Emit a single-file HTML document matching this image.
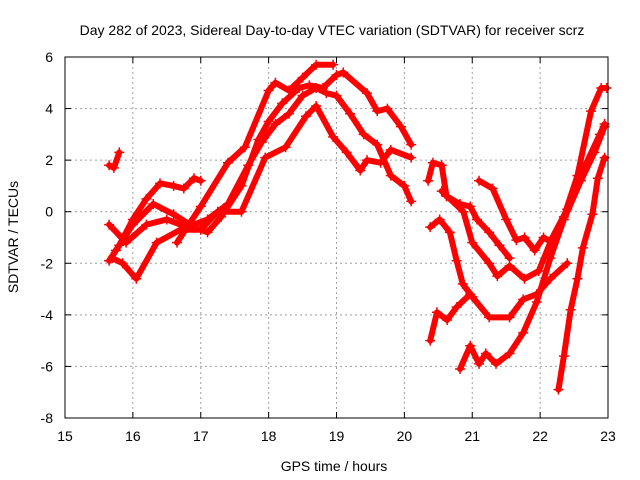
<!DOCTYPE html>
<html><head><meta charset="utf-8"><style>
body{margin:0;background:#fff}
svg{display:block;font-family:"Liberation Sans",sans-serif}
</style></head><body>
<svg id="chart" width="640" height="480">
<text x="332" y="35" text-anchor="middle" font-size="14">Day 282 of 2023, Sidereal Day-to-day VTEC variation (SDTVAR) for receiver scrz</text>
<text x="334" y="471" text-anchor="middle" font-size="14">GPS time / hours</text>
<text transform="translate(18,237) rotate(-90)" text-anchor="middle" font-size="14">SDTVAR / TECUs</text>
<g id="grid"></g><g id="ticks"></g><g id="series"></g>
<rect x="65" y="57" width="543" height="361" fill="none" stroke="#000" stroke-width="1"/>
</svg>
<script>
const xTicks=[15,16,17,18,19,20,21,22,23];
const yTicks=[-8,-6,-4,-2,0,2,4,6];
const s1=[[16.65,-1.2],[17.0,0.2],[17.4,1.9],[17.65,2.5],[18.0,4.7],[18.1,5.0],[18.3,4.7],[18.5,5.2],[18.7,5.7],[18.95,5.7]];
const s2=[[15.75,-1.5],[16.0,-0.5],[16.3,0.3],[16.6,-0.1],[16.9,-0.6],[17.1,-0.8],[17.3,-0.2],[17.6,1.0],[17.85,2.8],[18.0,3.5],[18.2,4.2],[18.45,4.8],[18.6,4.9],[18.8,4.8],[19.0,5.3],[19.1,5.4],[19.45,4.6],[19.6,3.9],[19.75,4.0],[19.95,3.3],[20.1,2.6]];
const s3=[[15.65,-0.5],[15.9,-1.2],[16.2,-0.5],[16.5,-0.3],[16.8,-0.6],[17.1,-0.3],[17.4,0.3],[17.7,1.8],[17.9,2.7],[18.1,3.4],[18.3,3.8],[18.5,4.5],[18.7,4.8],[18.85,4.6],[19.0,4.5],[19.2,3.8],[19.4,3.0],[19.6,2.6],[19.8,1.4],[20.0,1.0],[20.1,0.4]];
const s4=[[15.7,-1.8],[15.85,-2.0],[16.05,-2.6],[16.35,-1.2],[16.7,-0.7],[17.0,-0.7],[17.25,0.0],[17.6,0.0],[17.95,2.1],[18.25,2.5],[18.55,3.7],[18.7,4.1],[18.95,2.9],[19.15,2.3],[19.35,1.6],[19.45,2.0],[19.65,1.9],[19.8,2.4],[20.1,2.1]];
const s5=[[15.65,-1.9],[15.8,-1.3],[16.0,-0.3],[16.2,0.5],[16.4,1.1],[16.6,1.0],[16.75,0.9],[16.9,1.3],[17.0,1.2]];
const s6=[[15.65,1.8],[15.72,1.7],[15.8,2.3]];
const r1=[[20.38,-0.6],[20.52,-0.3],[20.67,-0.8],[20.77,-1.9],[20.86,-2.8],[21.0,-3.3],[21.25,-4.1],[21.55,-4.1],[21.75,-3.4],[21.95,-3.2],[22.15,-2.6],[22.4,-2.0]];
const r2=[[20.38,-5.0],[20.48,-3.9],[20.63,-4.2],[20.77,-3.7],[20.97,-3.2]];
const r3=[[20.82,-6.1],[20.97,-5.2],[21.1,-5.9],[21.2,-5.5],[21.35,-5.9],[21.55,-5.5],[21.75,-4.7],[21.95,-3.5],[22.15,-1.8],[22.35,-0.3],[22.6,1.2],[22.8,2.3],[22.95,3.3]];
const r4=[[20.35,1.2],[20.42,1.9],[20.55,1.8],[20.62,0.6],[20.82,0.3],[20.97,0.2],[21.07,-0.3],[21.25,-0.8],[21.4,-1.3],[21.55,-1.8]];
const r5=[[20.55,0.8],[20.87,0.0],[21.0,-1.2],[21.25,-2.0],[21.37,-2.5],[21.55,-2.1],[21.77,-2.6],[21.98,-2.3],[22.18,-1.0],[22.4,0.1],[22.63,1.6],[22.88,3.0],[22.95,3.4]];
const r6=[[21.1,1.2],[21.3,0.9],[21.5,-0.3],[21.65,-1.1],[21.77,-1.0],[21.92,-1.5],[22.05,-1.0],[22.18,-1.2],[22.35,-0.2],[22.55,1.4],[22.75,3.9],[22.9,4.8],[22.98,4.8]];
const r7=[[22.27,-6.9],[22.35,-5.6],[22.45,-3.8],[22.55,-2.6],[22.63,-1.4],[22.77,-0.1],[22.85,1.3],[22.95,2.1]];
const allSeries=[s1,s2,s3,s4,s5,s6,r1,r2,r3,r4,r5,r6,r7];

const X0=65,X1=608,Y0=418,Y1=57;
const xs=v=>X0+(v-15)/(23-15)*(X1-X0);
const ys=v=>Y0-(v+8)/(6+8)*(Y0-Y1);
const NS="http://www.w3.org/2000/svg";
const grid=document.getElementById('grid'),ticks=document.getElementById('ticks'),ser=document.getElementById('series');
function mk(t,a,p){const e=document.createElementNS(NS,t);for(const k in a)e.setAttribute(k,a[k]);p.appendChild(e);return e;}
xTicks.forEach(t=>{const x=xs(t);
 if(t>15&&t<23){const g=mk('line',{x1:x,x2:x,y1:Y1,y2:Y0,stroke:'#a0a0a0','stroke-dasharray':'2,3'},grid);
 
 }
 mk('line',{x1:x,x2:x,y1:Y0,y2:Y0-6,stroke:'#000'},ticks);mk('line',{x1:x,x2:x,y1:Y1,y2:Y1+6,stroke:'#000'},ticks);
 const l=mk('text',{x:x,y:Y0+23,'text-anchor':'middle','font-size':'14'},ticks);l.textContent=t;
 
 });
yTicks.forEach(t=>{const y=ys(t);
 if(t>-8&&t<6){const g=mk('line',{x1:X0,x2:X1,y1:y,y2:y,stroke:'#a0a0a0','stroke-dasharray':'2,3'},grid);
 
 }
 mk('line',{x1:X0,x2:X0+6,y1:y,y2:y,stroke:'#000'},ticks);mk('line',{x1:X1,x2:X1-6,y1:y,y2:y,stroke:'#000'},ticks);
 const l=mk('text',{x:X0-12,y:y+5,'text-anchor':'end','font-size':'14'},ticks);l.textContent=t;
 
 });
allSeries.forEach((s,i)=>{
 const g=mk('g',{},ser);
 
 
 mk('polyline',{points:s.map(p=>xs(p[0])+','+ys(p[1])).join(' '),fill:'none',stroke:'#ff0000','stroke-width':'6','stroke-linejoin':'round','stroke-linecap':'round'},g);
 s.forEach(p=>{const x=xs(p[0]),y=ys(p[1]);
  mk('path',{d:`M${x-5},${y}h10M${x},${y-5}v10`,stroke:'#ff0000','stroke-width':'1.5'},g);});
});
</script>
</body></html>
